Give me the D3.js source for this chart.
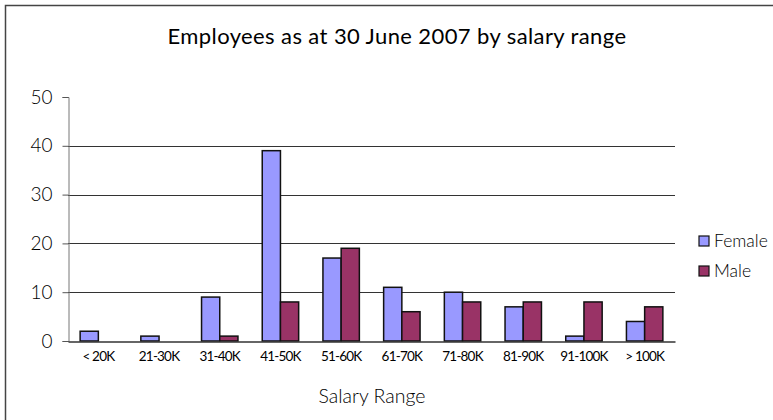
<!DOCTYPE html>
<html>
<head>
<meta charset="utf-8">
<script src="https://cdn.jsdelivr.net/npm/d3@7"></script>
<style>
  body { margin: 0; background: #fff; }
  svg { display: block; }
  text { font-family: Lato, "Open Sans", sans-serif; fill: #000; }
</style>
</head>
<body>
<script>
// chart data
const categories = ["<20K", "21-30K", "31-40K", "41-50K", "51-60K", "61-70K", "71-80K", "81-90K", "91-100K", "> 100K"];
const tickLabels = ["< 20K", "21-30K", "31-40K", "41-50K", "51-60K", "61-70K", "71-80K", "81-90K", "91-100K", "> 100K"];
const seriesNames = ["Female", "Male"];
const female = [2, 1, 9, 39, 17, 11, 10, 7, 1, 4];
const male = [0, 0, 1, 8, 19, 6, 8, 8, 8, 7];
const yTicks = [0, 10, 20, 30, 40, 50];

const colors = {Female: "#9999ff", Male: "#993366"};

const W = 773, H = 420;
const plot = {left: 68, right: 675, top: 97, bottom: 341};

const svg = d3.select("body").append("svg")
    .attr("width", W)
    .attr("height", H);

// outer frame
svg.append("rect")
    .attr("x", 5.5).attr("y", 5.5)
    .attr("width", W).attr("height", H)
    .attr("fill", "none")
    .attr("stroke", "#444")
    .attr("stroke-width", 1.5);

var x = d3.scaleBand().domain(categories).range([plot.left, plot.right]).paddingInner(0.4).paddingOuter(0.2);
var xs = d3.scaleBand().domain(seriesNames).range([0, x.bandwidth()]);
var y = d3.scaleLinear().domain([0, 50]).range([plot.bottom, plot.top]);

// gridlines (none on top value)
svg.append("g")
    .selectAll("line")
    .data(yTicks.filter(d => d > 0 && d < 50))
    .enter().append("line")
    .attr("x1", plot.left).attr("x2", plot.right)
    .attr("y1", d => Math.round(y(d)) + 0.5)
    .attr("y2", d => Math.round(y(d)) + 0.5)
    .attr("stroke", "#333")
    .attr("stroke-width", 1);

// y axis
var yAxis = svg.append("g")
    .attr("transform", "translate(" + (plot.left + 0.5) + ",0)")
    .call(d3.axisLeft(y).tickValues(yTicks).tickSize(6).tickPadding(10));
yAxis.select(".domain").attr("stroke", "#777");
yAxis.selectAll(".tick line").attr("stroke", "#555");
yAxis.selectAll(".tick text")
    .style("font-size", "19px")
    .style("font-weight", 300)
    .attr("fill", "#111");

// bars
const rows = categories.map((c, i) => ({cat: c, Female: female[i], Male: male[i]}));
var groups = svg.append("g").selectAll("g")
    .data(rows)
    .enter().append("g")
    .attr("transform", d => "translate(" + x(d.cat) + ",0)");

groups.selectAll("rect")
    .data(d => seriesNames.map(k => ({key: k, value: d[k]})).filter(e => e.value > 0))
    .enter().append("rect")
    .attr("x", d => xs(d.key))
    .attr("y", d => y(d.value))
    .attr("width", xs.bandwidth())
    .attr("height", d => y(0) - y(d.value))
    .attr("fill", d => colors[d.key])
    .attr("stroke", "#111")
    .attr("stroke-width", 1.5);

// x axis baseline
var xAxis = svg.append("g")
    .attr("transform", "translate(0," + (plot.bottom + 0.5) + ")")
    .call(d3.axisBottom(x).tickSize(0).tickPadding(10).tickFormat((d, i) => tickLabels[i]));
xAxis.select(".domain").attr("stroke", "#333").attr("stroke-width", 1.5);
xAxis.selectAll(".tick text")
    .style("font-size", "13.5px")
    .style("letter-spacing", "-0.8px")
    .attr("fill", "#000");

// title
svg.append("text")
    .attr("x", 397).attr("y", 44)
    .attr("text-anchor", "middle")
    .style("font-size", "22px")
    .style("letter-spacing", "0.4px")
    .text("Employees as at 30 June 2007 by salary range");

// x label
svg.append("text")
    .attr("x", 372).attr("y", 403)
    .attr("text-anchor", "middle")
    .style("font-size", "19.5px")
    .style("font-weight", 300)
    .text("Salary Range");

// legend
var legend = svg.append("g").selectAll("g")
    .data(seriesNames)
    .enter().append("g")
    .attr("transform", (d, i) => "translate(699," + (236 + i * 30) + ")");
legend.append("rect")
    .attr("width", 10).attr("height", 10)
    .attr("fill", d => colors[d])
    .attr("stroke", "#111")
    .attr("stroke-width", 1.2);
legend.append("text")
    .attr("x", 15).attr("y", 11)
    .style("font-size", "17.5px")
    .style("font-weight", 300)
    .text(d => d);
</script>
</body>
</html>
